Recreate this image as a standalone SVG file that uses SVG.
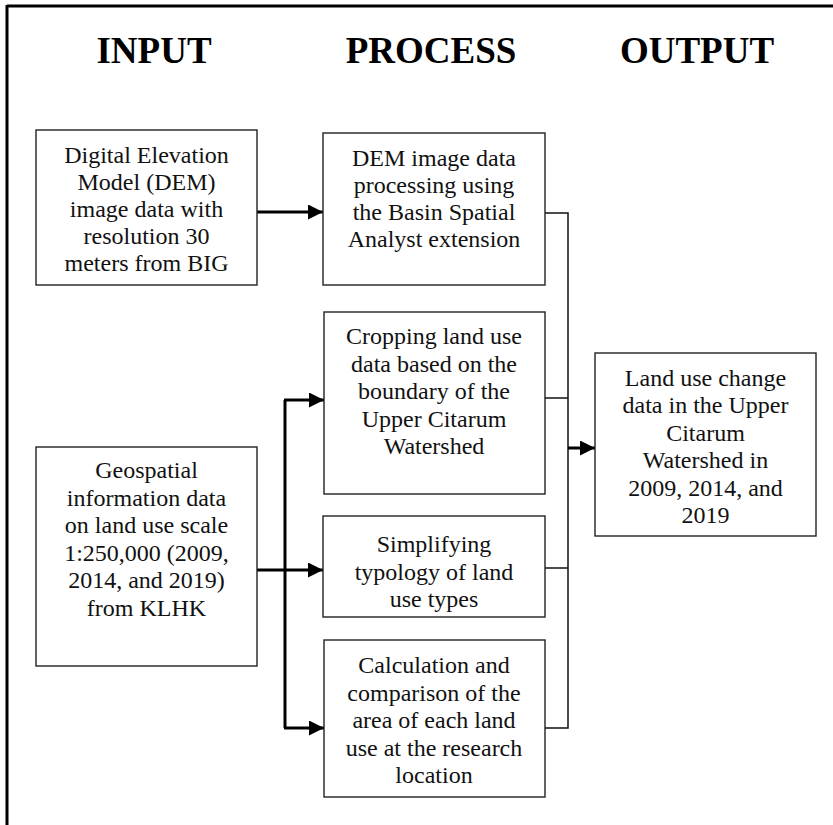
<svg xmlns="http://www.w3.org/2000/svg" width="833" height="825" viewBox="0 0 833 825">
<defs>
<style>
.box{fill:#fff;stroke:#222;stroke-width:1.4}
.t{font-family:"Liberation Serif","Times New Roman",serif;font-size:24px;fill:#111;text-anchor:middle}
.h{font-family:"Liberation Serif","Times New Roman",serif;font-size:37px;font-weight:bold;fill:#000;text-anchor:middle}
.thick{fill:none;stroke:#000;stroke-width:3}
.thin{fill:none;stroke:#111;stroke-width:1.5}
</style>
<marker id="ah" markerUnits="userSpaceOnUse" markerWidth="16" markerHeight="16" refX="15" refY="7.5" orient="auto">
<path d="M0,0 L15,7.5 L0,15 z" fill="#000"/>
</marker>
</defs>
<rect width="833" height="825" fill="#fff"/>
<g id="frame">
<line x1="7" y1="6" x2="833" y2="6" stroke="#000" stroke-width="3"/>
<line x1="7" y1="5" x2="7" y2="825" stroke="#000" stroke-width="3"/>
</g>
<g id="headings">
<text class="h" x="154" y="63">INPUT</text>
<text class="h" x="431" y="63">PROCESS</text>
<text class="h" x="697" y="63">OUTPUT</text>
</g>
<g id="connectors">
<line class="thick" x1="257" y1="212" x2="323" y2="212" marker-end="url(#ah)"/>
<line class="thick" x1="257" y1="570" x2="323" y2="570" marker-end="url(#ah)"/>
<polyline class="thick" points="285,400 285,728"/>
<line class="thick" x1="284" y1="400" x2="324" y2="400" marker-end="url(#ah)"/>
<line class="thick" x1="284" y1="728" x2="324" y2="728" marker-end="url(#ah)"/>
<polyline class="thin" points="545,213 568,213 568,728 545,728"/>
<line class="thin" x1="545" y1="398" x2="568" y2="398"/>
<line class="thin" x1="545" y1="568" x2="568" y2="568"/>
<line class="thick" x1="568" y1="448" x2="595" y2="448" marker-end="url(#ah)"/>
</g>
<g id="dem-input">
<rect class="box" x="36" y="130" width="221" height="155"/>
<text class="t" x="146.5" y="163">Digital Elevation</text>
<text class="t" x="146.5" y="190">Model (DEM)</text>
<text class="t" x="146.5" y="217">image data with</text>
<text class="t" x="146.5" y="244">resolution 30</text>
<text class="t" x="146.5" y="271">meters from BIG</text>
</g>
<g id="geospatial-input">
<rect class="box" x="36" y="447" width="221" height="219"/>
<text class="t" x="146.5" y="478">Geospatial</text>
<text class="t" x="146.5" y="505.6">information data</text>
<text class="t" x="146.5" y="533.2">on land use scale</text>
<text class="t" x="146.5" y="560.8">1:250,000 (2009,</text>
<text class="t" x="146.5" y="588.4">2014, and 2019)</text>
<text class="t" x="146.5" y="616">from KLHK</text>
</g>
<g id="dem-process">
<rect class="box" x="323" y="133" width="222" height="152"/>
<text class="t" x="434" y="166">DEM image data</text>
<text class="t" x="434" y="193">processing using</text>
<text class="t" x="434" y="220">the Basin Spatial</text>
<text class="t" x="434" y="247">Analyst extension</text>
</g>
<g id="cropping">
<rect class="box" x="324" y="312" width="221" height="182"/>
<text class="t" x="434" y="344">Cropping land use</text>
<text class="t" x="434" y="371.5">data based on the</text>
<text class="t" x="434" y="399">boundary of the</text>
<text class="t" x="434" y="426.5">Upper Citarum</text>
<text class="t" x="434" y="454">Watershed</text>
</g>
<g id="simplifying">
<rect class="box" x="323" y="516" width="222" height="101"/>
<text class="t" x="434" y="552">Simplifying</text>
<text class="t" x="434" y="579.5">typology of land</text>
<text class="t" x="434" y="607">use types</text>
</g>
<g id="calculation">
<rect class="box" x="324" y="640" width="221" height="157"/>
<text class="t" x="434" y="673">Calculation and</text>
<text class="t" x="434" y="700.5">comparison of the</text>
<text class="t" x="434" y="728">area of each land</text>
<text class="t" x="434" y="755.5">use at the research</text>
<text class="t" x="434" y="783">location</text>
</g>
<g id="output">
<rect class="box" x="595" y="353" width="221" height="183"/>
<text class="t" x="705.5" y="385.5">Land use change</text>
<text class="t" x="705.5" y="413">data in the Upper</text>
<text class="t" x="705.5" y="440.5">Citarum</text>
<text class="t" x="705.5" y="468">Watershed in</text>
<text class="t" x="705.5" y="495.5">2009, 2014, and</text>
<text class="t" x="705.5" y="523">2019</text>
</g>
</svg>
